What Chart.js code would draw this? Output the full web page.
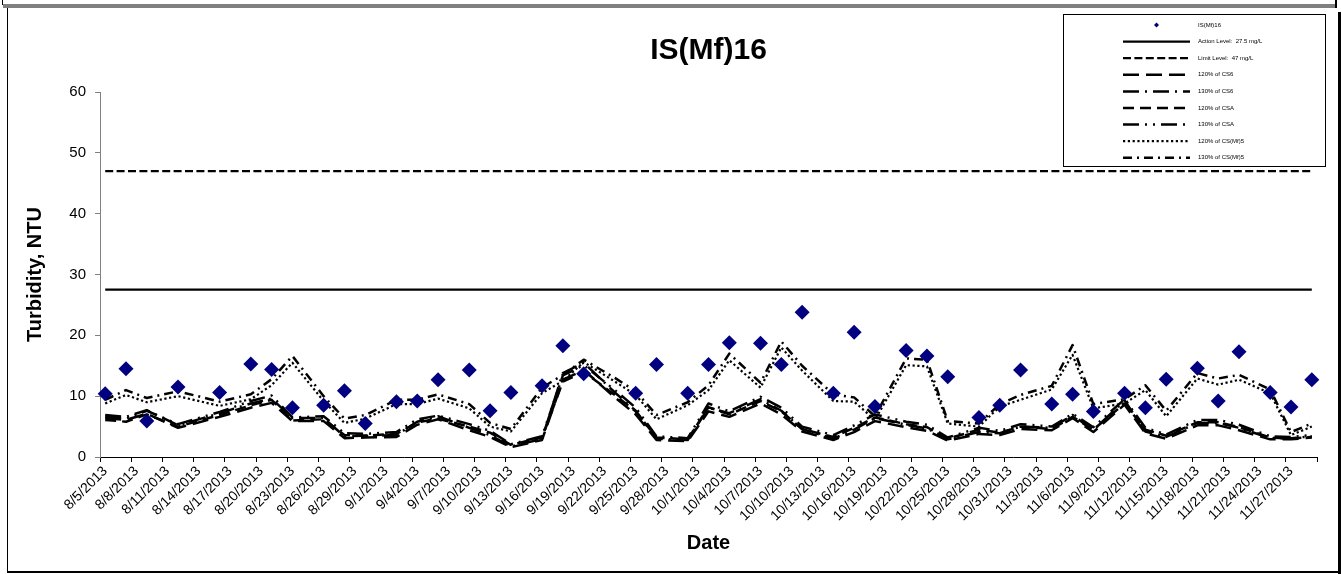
<!DOCTYPE html>
<html>
<head>
<meta charset="utf-8">
<title>IS(Mf)16 Turbidity</title>
<script src="https://cdn.jsdelivr.net/npm/chart.js@4.4.1/dist/chart.umd.min.js"></script>
<style>
  html, body { margin: 0; padding: 0; background: #fff; }
  canvas { display: block; }
</style>
</head>
<body>
<canvas id="turbidity" width="1341" height="574"></canvas>
<script>
// Daily categories of the date axis (8/5/2013 - 11/29/2013)
const days = [
  '8/5/2013','8/6/2013','8/7/2013','8/8/2013','8/9/2013','8/10/2013','8/11/2013','8/12/2013','8/13/2013','8/14/2013',
  '8/15/2013','8/16/2013','8/17/2013','8/18/2013','8/19/2013','8/20/2013','8/21/2013','8/22/2013','8/23/2013','8/24/2013',
  '8/25/2013','8/26/2013','8/27/2013','8/28/2013','8/29/2013','8/30/2013','8/31/2013',
  '9/1/2013','9/2/2013','9/3/2013','9/4/2013','9/5/2013','9/6/2013','9/7/2013','9/8/2013','9/9/2013','9/10/2013',
  '9/11/2013','9/12/2013','9/13/2013','9/14/2013','9/15/2013','9/16/2013','9/17/2013','9/18/2013','9/19/2013','9/20/2013',
  '9/21/2013','9/22/2013','9/23/2013','9/24/2013','9/25/2013','9/26/2013','9/27/2013','9/28/2013','9/29/2013','9/30/2013',
  '10/1/2013','10/2/2013','10/3/2013','10/4/2013','10/5/2013','10/6/2013','10/7/2013','10/8/2013','10/9/2013','10/10/2013',
  '10/11/2013','10/12/2013','10/13/2013','10/14/2013','10/15/2013','10/16/2013','10/17/2013','10/18/2013','10/19/2013','10/20/2013',
  '10/21/2013','10/22/2013','10/23/2013','10/24/2013','10/25/2013','10/26/2013','10/27/2013','10/28/2013','10/29/2013','10/30/2013',
  '10/31/2013',
  '11/1/2013','11/2/2013','11/3/2013','11/4/2013','11/5/2013','11/6/2013','11/7/2013','11/8/2013','11/9/2013','11/10/2013',
  '11/11/2013','11/12/2013','11/13/2013','11/14/2013','11/15/2013','11/16/2013','11/17/2013','11/18/2013','11/19/2013','11/20/2013',
  '11/21/2013','11/22/2013','11/23/2013','11/24/2013','11/25/2013','11/26/2013','11/27/2013','11/28/2013','11/29/2013'
];

// Dates that carry a label on the date axis
const xTickLabels = [
  '8/5/2013','8/8/2013','8/11/2013','8/14/2013','8/17/2013','8/20/2013','8/23/2013','8/26/2013','8/29/2013',
  '9/1/2013','9/4/2013','9/7/2013','9/10/2013','9/13/2013','9/16/2013','9/19/2013','9/22/2013','9/25/2013','9/28/2013',
  '10/1/2013','10/4/2013','10/7/2013','10/10/2013','10/13/2013','10/16/2013','10/19/2013','10/22/2013','10/25/2013',
  '10/28/2013','10/31/2013','11/3/2013','11/6/2013','11/9/2013','11/12/2013','11/15/2013','11/18/2013','11/21/2013',
  '11/24/2013','11/27/2013'
];

// Sampling dates (Mon / Wed / Fri)
const sampleDates = [
  '8/5/2013','8/7/2013','8/9/2013','8/12/2013','8/16/2013','8/19/2013','8/21/2013','8/23/2013','8/26/2013','8/28/2013',
  '8/30/2013','9/2/2013','9/4/2013','9/6/2013','9/9/2013','9/11/2013','9/13/2013','9/16/2013','9/18/2013','9/20/2013',
  '9/23/2013','9/25/2013','9/27/2013','9/30/2013','10/2/2013','10/4/2013','10/7/2013','10/9/2013','10/11/2013','10/14/2013',
  '10/16/2013','10/18/2013','10/21/2013','10/23/2013','10/25/2013','10/28/2013','10/30/2013','11/1/2013','11/4/2013','11/6/2013',
  '11/8/2013','11/11/2013','11/13/2013','11/15/2013','11/18/2013','11/20/2013','11/22/2013','11/25/2013','11/27/2013','11/29/2013'
];

// Measured turbidity at IS(Mf)16, NTU (no sample on 9/23)
const isMf16 = [
  10.4, 14.5, 5.9, 11.5, 10.6, 15.3, 14.4, 8.1, 8.5, 10.9,
  5.5, 9.1, 9.2, 12.7, 14.3, 7.6, 10.6, 11.7, 18.3, 13.7,
  null, 10.5, 15.2, 10.5, 15.2, 18.8, 18.7, 15.2, 23.8, 10.5,
  20.5, 8.3, 17.5, 16.6, 13.2, 6.5, 8.5, 14.3, 8.7, 10.3,
  7.5, 10.5, 8.1, 12.8, 14.6, 9.2, 17.3, 10.6, 8.2, 12.7
];

const actionLevel = 27.5;
const limitLevel = 47;

// Background-station thresholds, NTU
const cs6At120 = [
  6.4, 6.1, 7.1, 4.8, 6.6, 8.1, 8.9, 5.9, 5.9, 3.1,
  3.2, 3.3, 5.3, 6.2, 4.4, 3.3, 1.6, 2.8, 12.7, 14.3,
  9.8, 7.0, 2.8, 2.6, 7.5, 6.6, 8.8, 7.0, 4.2, 2.8,
  4.1, 5.9, 4.9, 4.3, 2.7, 3.8, 3.6, 4.6, 4.4, 6.4,
  4.1, 8.6, 3.9, 3.0, 5.2, 5.2, 4.4, 2.9, 2.9, 3.2
];
const cs6At130 = [
  6.9, 6.6, 7.7, 5.2, 7.2, 8.8, 9.6, 6.4, 6.4, 3.4,
  3.5, 3.6, 5.8, 6.7, 4.8, 3.6, 1.7, 3.0, 13.8, 15.5,
  10.6, 7.6, 3.0, 2.8, 8.1, 7.2, 9.5, 7.6, 4.6, 3.0,
  4.5, 6.4, 5.3, 4.7, 2.9, 4.1, 3.9, 5.0, 4.8, 6.9,
  4.4, 9.3, 4.2, 3.3, 5.6, 5.6, 4.8, 3.1, 3.1, 3.4
];
const csaAt120 = [
  6.1, 5.8, 7.0, 5.0, 6.9, 8.5, 9.4, 6.0, 6.2, 3.6,
  3.5, 3.8, 5.7, 6.3, 5.0, 4.0, 2.0, 3.2, 12.4, 14.0,
  10.2, 7.5, 3.2, 2.9, 8.2, 7.0, 9.2, 7.5, 4.6, 3.3,
  4.8, 6.5, 5.4, 4.9, 3.0, 4.5, 4.0, 5.0, 4.6, 6.6,
  4.5, 8.8, 4.5, 3.5, 5.7, 5.7, 4.9, 3.2, 3.0, 3.3
];
const csaAt130 = [
  6.6, 6.3, 7.6, 5.4, 7.4, 9.2, 10.1, 6.5, 6.7, 3.9,
  3.8, 4.1, 6.2, 6.8, 5.4, 4.3, 2.1, 3.4, 13.4, 15.1,
  11.0, 8.1, 3.4, 3.1, 8.8, 7.5, 9.9, 8.1, 5.0, 3.6,
  5.2, 7.0, 5.8, 5.3, 3.2, 4.8, 4.3, 5.4, 5.0, 7.1,
  4.9, 9.5, 4.8, 3.7, 6.1, 6.1, 5.3, 3.4, 3.3, 3.6
];
const csMf5At120 = [
  8.8, 10.2, 9.0, 10.0, 8.4, 9.5, 11.8, 15.5, 9.2, 5.6,
  6.3, 8.7, 8.7, 9.6, 8.0, 5.0, 4.2, 10.5, 12.5, 15.6,
  12.4, 10.2, 6.2, 8.5, 11.0, 15.9, 11.4, 18.0, 14.2, 9.2,
  9.1, 6.1, 15.1, 14.9, 5.5, 5.0, 8.3, 9.4, 11.1, 16.8,
  8.0, 8.8, 11.0, 6.7, 12.9, 11.9, 12.7, 10.5, 3.6, 5.0
];
const csMf5At130 = [
  9.4, 11.0, 9.7, 10.8, 9.1, 10.3, 12.8, 16.6, 10.0, 6.3,
  6.9, 9.4, 9.4, 10.3, 8.7, 5.6, 4.6, 11.4, 13.5, 16.0,
  13.0, 10.8, 6.9, 9.0, 11.8, 17.0, 12.2, 19.0, 15.0, 10.3,
  9.8, 6.7, 16.2, 16.0, 5.9, 5.5, 8.7, 10.2, 11.7, 18.4,
  8.7, 9.5, 11.8, 7.6, 13.8, 12.9, 13.5, 11.1, 4.1, 5.5
];

// y axis range
const yMin = 0, yMax = 60, yStep = 10;

const FONT = '"Liberation Sans", Arial, Helvetica, sans-serif';
Chart.defaults.font.family = FONT;
Chart.defaults.color = '#000';

const pairs = (values) => sampleDates.map((d, i) => ({ x: d, y: values[i] }));
const level = (v) => [
  { x: sampleDates[0], y: v },
  { x: sampleDates[sampleDates.length - 1], y: v }
];

const lineStyle = (dash, width) => ({
  borderColor: '#000',
  backgroundColor: '#000',
  borderWidth: width,
  borderDash: dash,
  borderJoinStyle: 'round',
  pointRadius: 0,
  pointHoverRadius: 0,
  tension: 0,
  fill: false
});

// Sheet frame around the chart
const sheetFrame = {
  id: 'sheetFrame',
  beforeDraw(chart) {
    const c = chart.ctx;
    c.save();
    c.fillStyle = '#fff';
    c.fillRect(0, 0, chart.width, chart.height);
    c.fillStyle = '#808080';
    c.fillRect(3, 4, 1333, 4);
    c.fillStyle = '#000';
    c.fillRect(2, 0, 1, 5);
    c.fillRect(1335, 0, 2, 8);
    c.fillRect(7, 8, 1, 564);
    c.fillRect(7, 571, 1333, 2);
    c.fillRect(1338, 12, 3, 562);
    c.restore();
  }
};

// Boxed legend in the upper right corner
const legendLayout = { left: 1063, top: 14, width: 262, height: 152, rowTop: 25, rowStep: 16.6,
                       lineStart: 1123, lineEnd: 1190, textX: 1198 };
const boxedLegend = {
  id: 'boxedLegend',
  afterDraw(chart) {
    const c = chart.ctx, L = legendLayout;
    c.save();
    c.fillStyle = '#fff';
    c.fillRect(L.left, L.top, L.width, L.height);
    c.strokeStyle = '#000';
    c.lineWidth = 1;
    c.strokeRect(L.left + 0.5, L.top + 0.5, L.width, L.height);
    chart.data.datasets.forEach((ds, i) => {
      const y = L.rowTop + i * L.rowStep;
      const mid = (L.lineStart + L.lineEnd) / 2;
      if (ds.showLine === false) {
        c.fillStyle = ds.backgroundColor;
        c.beginPath();
        c.moveTo(mid - 2.5, y); c.lineTo(mid, y - 2.5); c.lineTo(mid + 2.5, y); c.lineTo(mid, y + 2.5);
        c.closePath();
        c.fill();
      } else {
        c.strokeStyle = ds.borderColor;
        c.lineWidth = ds.borderWidth;
        c.setLineDash(ds.borderDash || []);
        c.beginPath();
        c.moveTo(L.lineStart, y);
        c.lineTo(L.lineEnd, y);
        c.stroke();
        c.setLineDash([]);
      }
      c.fillStyle = '#000';
      c.font = '6px ' + FONT;
      c.textBaseline = 'middle';
      c.textAlign = 'left';
      c.fillText(ds.label, L.textX, y);
    });
    c.restore();
  }
};

new Chart(document.getElementById('turbidity'), {
  type: 'line',
  data: {
    labels: days,
    datasets: [
      {
        label: 'IS(Mf)16',
        data: pairs(isMf16),
        showLine: false,
        pointStyle: 'rectRot',
        pointRadius: 7.5,
        pointHoverRadius: 7.5,
        pointBorderWidth: 0,
        backgroundColor: '#000080',
        borderColor: '#000080'
      },
      Object.assign({ label: 'Action Level:  27.5 mg/L', data: level(actionLevel) }, lineStyle([], 2.2)),
      Object.assign({ label: 'Limit Level:  47 mg/L', data: level(limitLevel) }, lineStyle([8, 3.4], 2.2)),
      Object.assign({ label: '120% of CS6', data: pairs(cs6At120) }, lineStyle([16, 7], 2.5)),
      Object.assign({ label: '130% of CS6', data: pairs(cs6At130) }, lineStyle([16, 6, 2, 6], 2.5)),
      Object.assign({ label: '120% of CSA', data: pairs(csaAt120) }, lineStyle([11, 6], 2.5)),
      Object.assign({ label: '130% of CSA', data: pairs(csaAt130) }, lineStyle([16, 6, 2, 6, 2, 6], 2.5)),
      Object.assign({ label: '120% of CS(Mf)5', data: pairs(csMf5At120) }, lineStyle([2.2, 2.6], 2.2)),
      Object.assign({ label: '130% of CS(Mf)5', data: pairs(csMf5At130) }, lineStyle([9, 5, 2, 5], 2.5))
    ]
  },
  options: {
    responsive: false,
    animation: false,
    events: [],
    layout: { padding: { left: 0, right: 24, top: 0, bottom: 0 } },
    plugins: {
      legend: { display: false },
      tooltip: { enabled: false },
      title: {
        display: true,
        text: 'IS(Mf)16',
        fullSize: false,
        color: '#000',
        font: { family: FONT, size: 30, weight: 'bold', lineHeight: 1.2 },
        padding: { top: 33, bottom: 23 }
      }
    },
    scales: {
      x: {
        type: 'category',
        offset: true,
        grid: {
          offset: true,
          drawOnChartArea: false,
          drawTicks: true,
          tickLength: 5,
          tickWidth: 1,
          tickColor: (ctx) => (ctx.index === undefined || xTickLabels.includes(days[ctx.index])) ? '#000' : 'rgba(0,0,0,0)'
        },
        border: { display: true, color: '#000', width: 1 },
        ticks: {
          autoSkip: false,
          maxRotation: 45,
          minRotation: 45,
          padding: 1,
          font: { family: FONT, size: 14 },
          color: '#000',
          callback: function (value) {
            const label = this.getLabelForValue(value);
            return xTickLabels.includes(label) ? label : '';
          }
        },
        title: {
          display: true,
          text: 'Date',
          color: '#000',
          font: { family: FONT, size: 20, weight: 'bold', lineHeight: 1.2 },
          padding: { top: 0, bottom: 19 }
        },
        afterFit: (scale) => { scale.height = 117; }
      },
      y: {
        min: yMin,
        max: yMax,
        ticks: {
          stepSize: yStep,
          padding: 9,
          font: { family: FONT, size: 15 },
          color: '#000'
        },
        grid: {
          drawOnChartArea: false,
          drawTicks: true,
          tickLength: 5,
          color: '#808080'
        },
        border: { display: true, color: '#808080', width: 1 },
        title: {
          display: true,
          text: 'Turbidity, NTU',
          color: '#000',
          font: { family: FONT, size: 20, weight: 'bold', lineHeight: 1.2 },
          padding: { top: 23, bottom: 0 }
        },
        afterFit: (scale) => { scale.width = 100; }
      }
    }
  },
  plugins: [sheetFrame, boxedLegend]
});
</script>
</body>
</html>
